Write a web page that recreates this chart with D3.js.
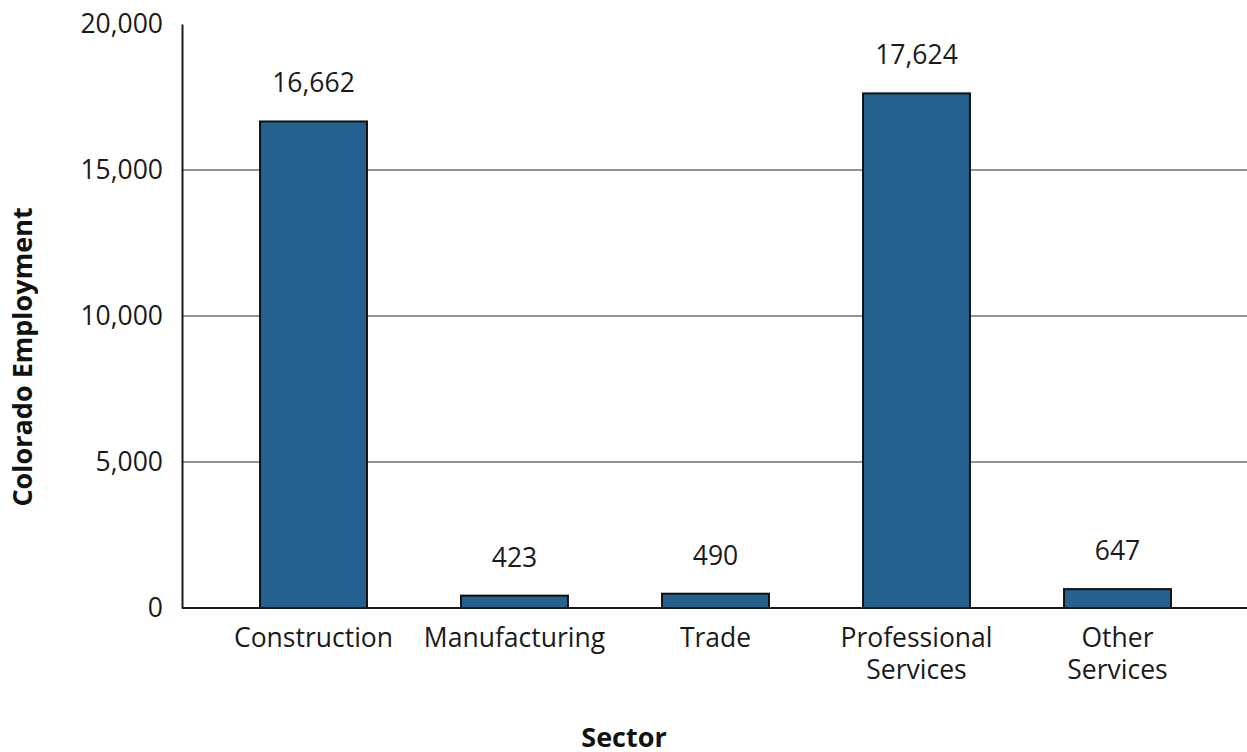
<!DOCTYPE html>
<html>
<head>
<meta charset="utf-8">
<script src="https://cdn.jsdelivr.net/npm/d3@7"></script>
<style>
  html, body { margin: 0; padding: 0; background: #fff; }
  svg { display: block; font-family: "Open Sans", sans-serif; }
</style>
</head>
<body>
<svg id="chart" width="1247" height="752"></svg>
<script>
// Colorado employment by sector
const sectors = ["Construction", "Manufacturing", "Trade", "Professional Services", "Other Services"];
const sectorLines = [["Construction"], ["Manufacturing"], ["Trade"], ["Professional", "Services"], ["Other", "Services"]];
const employment = [16662, 423, 490, 17624, 647];
const yTicks = [0, 5000, 10000, 15000, 20000];

const svg = d3.select("#chart");
const plotLeft = 182, plotRight = 1247, plotTop = 24, plotBottom = 608;
const labelSize = 26.5, titleSize = 27;

const x = d3.scaleBand()
  .domain(sectors)
  .range([213, 1218])
  .paddingInner(0.468)
  .paddingOuter(0.234);

const y = d3.scaleLinear().domain([0, 20000]).range([plotBottom, plotTop]);
const fmt = d3.format(",");

// horizontal gridlines
svg.append("g")
  .selectAll("line")
  .data(yTicks.filter(d => d > 0 && d < 20000))
  .join("line")
  .attr("x1", plotLeft).attr("x2", plotRight)
  .attr("y1", d => y(d)).attr("y2", d => y(d))
  .attr("stroke", "#66707b")
  .attr("stroke-width", 1.5);

// y axis
const yAxis = svg.append("g")
  .attr("transform", `translate(${plotLeft},0)`)
  .call(d3.axisLeft(y).tickValues(yTicks).tickFormat(fmt).tickSize(0).tickPadding(19));
yAxis.select(".domain").attr("stroke", "#1a1a1a").attr("stroke-width", 2);
yAxis.selectAll("text")
  .attr("font-size", labelSize)
  .attr("fill", "#1a1a1a")
  .attr("font-family", "'Open Sans', sans-serif");

// bars
svg.append("g")
  .selectAll("rect")
  .data(sectors)
  .join("rect")
  .attr("x", d => x(d))
  .attr("width", x.bandwidth())
  .attr("y", (d, i) => y(employment[i]))
  .attr("height", (d, i) => y(0) - y(employment[i]))
  .attr("fill", "#25618f")
  .attr("stroke", "#111")
  .attr("stroke-width", 2);

// value labels
svg.append("g")
  .selectAll("text")
  .data(sectors)
  .join("text")
  .attr("x", d => x(d) + x.bandwidth() / 2)
  .attr("y", (d, i) => y(employment[i]) - 29)
  .attr("text-anchor", "middle")
  .attr("font-size", labelSize)
  .attr("fill", "#1a1a1a")
  .text((d, i) => fmt(employment[i]));

// x baseline
svg.append("line")
  .attr("x1", plotLeft).attr("x2", plotRight)
  .attr("y1", plotBottom).attr("y2", plotBottom)
  .attr("stroke", "#1a1a1a")
  .attr("stroke-width", 2);

// x category labels
const xLabels = svg.append("g")
  .selectAll("text")
  .data(sectors)
  .join("text")
  .attr("x", d => x(d) + x.bandwidth() / 2)
  .attr("y", 647)
  .attr("text-anchor", "middle")
  .attr("font-size", labelSize)
  .attr("fill", "#1a1a1a");
xLabels.selectAll("tspan")
  .data((d, i) => sectorLines[i])
  .join("tspan")
  .attr("x", function() { return d3.select(this.parentNode).attr("x"); })
  .attr("dy", (d, i) => i === 0 ? 0 : 32)
  .text(d => d);

// axis titles
svg.append("text")
  .attr("x", 624)
  .attr("y", 747)
  .attr("text-anchor", "middle")
  .attr("font-size", titleSize)
  .attr("font-weight", "bold")
  .attr("fill", "#111")
  .text("Sector");

svg.append("text")
  .attr("transform", "translate(32,357) rotate(-90)")
  .attr("text-anchor", "middle")
  .attr("font-size", titleSize)
  .attr("font-weight", "bold")
  .attr("fill", "#111")
  .text("Colorado Employment");
</script>
</body>
</html>
